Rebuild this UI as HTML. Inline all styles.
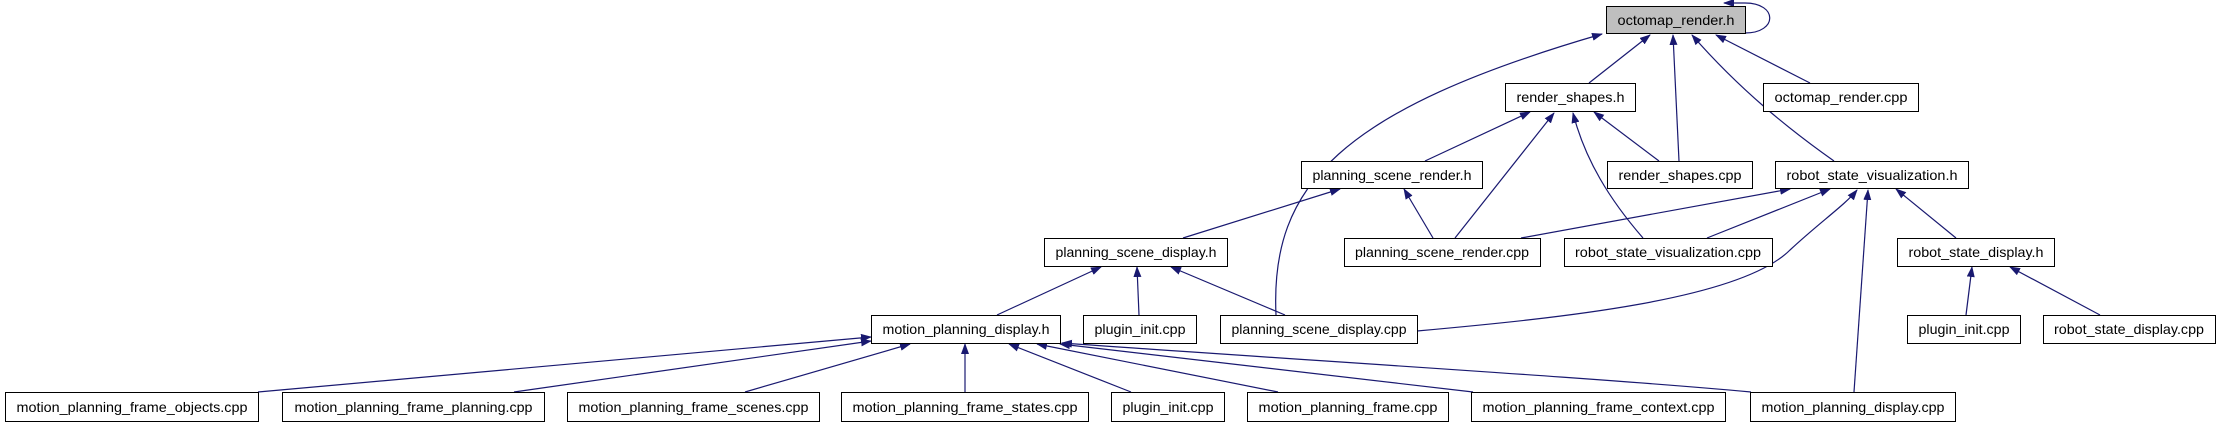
<!DOCTYPE html>
<html><head><meta charset="utf-8"><style>
html,body{margin:0;padding:0;background:#fff;}
svg{display:block;}
text{font-family:"Liberation Sans",sans-serif;font-size:14px;fill:#000;}
</style></head><body>
<svg width="2220" height="427" viewBox="0 0 2220 427" xmlns="http://www.w3.org/2000/svg">
<defs>
<marker id="a" markerWidth="11" markerHeight="8" refX="10" refY="4" orient="auto" markerUnits="userSpaceOnUse">
<path d="M0,0 L11,4 L0,8 Z" fill="#191970"/>
</marker>
</defs>
<g fill="none" stroke="#191970" stroke-width="1.2" marker-end="url(#a)">
<!-- octomap_render.h parents -->
<path d="M1276,315 C1270,185 1340,110 1602,34"/>
<path d="M1589,83 L1650,35"/>
<path d="M1679,161 L1673,35"/>
<path d="M1834,161 C1790,130 1740,90 1692,35"/>
<path d="M1810,83 L1716,35"/>
<path d="M1745,33 C1778,33 1778,3 1745,3 L1724,3"/>
<!-- render_shapes.h -->
<path d="M1425,161 L1530,112"/>
<path d="M1455,238 L1554,113"/>
<path d="M1643,238 C1610,200 1585,160 1573,113"/>
<path d="M1659,161 L1594,112"/>
<!-- planning_scene_render.h -->
<path d="M1183,238 L1340,189"/>
<path d="M1433,238 L1404,189"/>
<!-- robot_state_visualization.h -->
<path d="M1521,238 L1790,189"/>
<path d="M1707,238 L1830,189"/>
<path d="M1417,331 C1560,318 1740,300 1790,250 C1820,222 1845,205 1857,190"/>
<path d="M1854,392 L1868,190"/>
<path d="M1956,238 L1896,189"/>
<!-- robot_state_display.h -->
<path d="M1966,315 L1972,267"/>
<path d="M2100,315 L2010,267"/>
<!-- planning_scene_display.h -->
<path d="M997,315 L1101,267"/>
<path d="M1139,315 L1137,267"/>
<path d="M1285,315 L1171,267"/>
<!-- motion_planning_display.h -->
<path d="M258,392 L871,337"/>
<path d="M514,392 L871,341"/>
<path d="M745,392 L910,344"/>
<path d="M965,392 L965,344"/>
<path d="M1131,392 L1009,344"/>
<path d="M1278,392 L1037,344"/>
<path d="M1473,392 L1060,344"/>
<path d="M1751,392 C1600,378 1300,360 1062,343"/>
</g>
<g stroke="#000" stroke-width="1" fill="#fff">
<rect x="1606.5" y="6.5" width="139" height="27" fill="#bfbfbf"/>
<rect x="1505.5" y="83.5" width="130" height="28"/>
<rect x="1763.5" y="83.5" width="155" height="28"/>
<rect x="1301.5" y="161.5" width="181" height="27"/>
<rect x="1607.5" y="161.5" width="145" height="27"/>
<rect x="1775.5" y="161.5" width="193" height="27"/>
<rect x="1044.5" y="238.5" width="183" height="28"/>
<rect x="1344.5" y="238.5" width="196" height="28"/>
<rect x="1564.5" y="238.5" width="208" height="28"/>
<rect x="1897.5" y="238.5" width="157" height="28"/>
<rect x="871.5" y="315.5" width="189" height="28"/>
<rect x="1083.5" y="315.5" width="113" height="28"/>
<rect x="1220.5" y="315.5" width="197" height="28"/>
<rect x="1907.5" y="315.5" width="113" height="28"/>
<rect x="2043.5" y="315.5" width="172" height="28"/>
<rect x="5.5" y="392.5" width="253" height="29"/>
<rect x="282.5" y="392.5" width="262" height="29"/>
<rect x="567.5" y="392.5" width="252" height="29"/>
<rect x="841.5" y="392.5" width="247" height="29"/>
<rect x="1111.5" y="392.5" width="113" height="29"/>
<rect x="1247.5" y="392.5" width="201" height="29"/>
<rect x="1471.5" y="392.5" width="254" height="29"/>
<rect x="1750.5" y="392.5" width="205" height="29"/>
</g>
<g text-anchor="middle" lengthAdjust="spacingAndGlyphs">
<text x="1676" y="25" textLength="117" lengthAdjust="spacingAndGlyphs">octomap_render.h</text>
<text x="1570.5" y="102" textLength="108" lengthAdjust="spacingAndGlyphs">render_shapes.h</text>
<text x="1841" y="102" textLength="133" lengthAdjust="spacingAndGlyphs">octomap_render.cpp</text>
<text x="1392" y="180" textLength="159" lengthAdjust="spacingAndGlyphs">planning_scene_render.h</text>
<text x="1680" y="180" textLength="123" lengthAdjust="spacingAndGlyphs">render_shapes.cpp</text>
<text x="1872" y="180" textLength="171" lengthAdjust="spacingAndGlyphs">robot_state_visualization.h</text>
<text x="1136" y="257" textLength="161" lengthAdjust="spacingAndGlyphs">planning_scene_display.h</text>
<text x="1442" y="257" textLength="174" lengthAdjust="spacingAndGlyphs">planning_scene_render.cpp</text>
<text x="1668" y="257" textLength="186" lengthAdjust="spacingAndGlyphs">robot_state_visualization.cpp</text>
<text x="1976" y="257" textLength="135" lengthAdjust="spacingAndGlyphs">robot_state_display.h</text>
<text x="966" y="334" textLength="167" lengthAdjust="spacingAndGlyphs">motion_planning_display.h</text>
<text x="1140" y="334" textLength="91" lengthAdjust="spacingAndGlyphs">plugin_init.cpp</text>
<text x="1319" y="334" textLength="175" lengthAdjust="spacingAndGlyphs">planning_scene_display.cpp</text>
<text x="1964" y="334" textLength="91" lengthAdjust="spacingAndGlyphs">plugin_init.cpp</text>
<text x="2129" y="334" textLength="150" lengthAdjust="spacingAndGlyphs">robot_state_display.cpp</text>
<text x="132" y="412" textLength="231" lengthAdjust="spacingAndGlyphs">motion_planning_frame_objects.cpp</text>
<text x="413.5" y="412" textLength="238" lengthAdjust="spacingAndGlyphs">motion_planning_frame_planning.cpp</text>
<text x="693.5" y="412" textLength="230" lengthAdjust="spacingAndGlyphs">motion_planning_frame_scenes.cpp</text>
<text x="965" y="412" textLength="225" lengthAdjust="spacingAndGlyphs">motion_planning_frame_states.cpp</text>
<text x="1168" y="412" textLength="91" lengthAdjust="spacingAndGlyphs">plugin_init.cpp</text>
<text x="1348" y="412" textLength="179" lengthAdjust="spacingAndGlyphs">motion_planning_frame.cpp</text>
<text x="1598.5" y="412" textLength="232" lengthAdjust="spacingAndGlyphs">motion_planning_frame_context.cpp</text>
<text x="1853" y="412" textLength="183" lengthAdjust="spacingAndGlyphs">motion_planning_display.cpp</text>
</g>
</svg>
</body></html>
